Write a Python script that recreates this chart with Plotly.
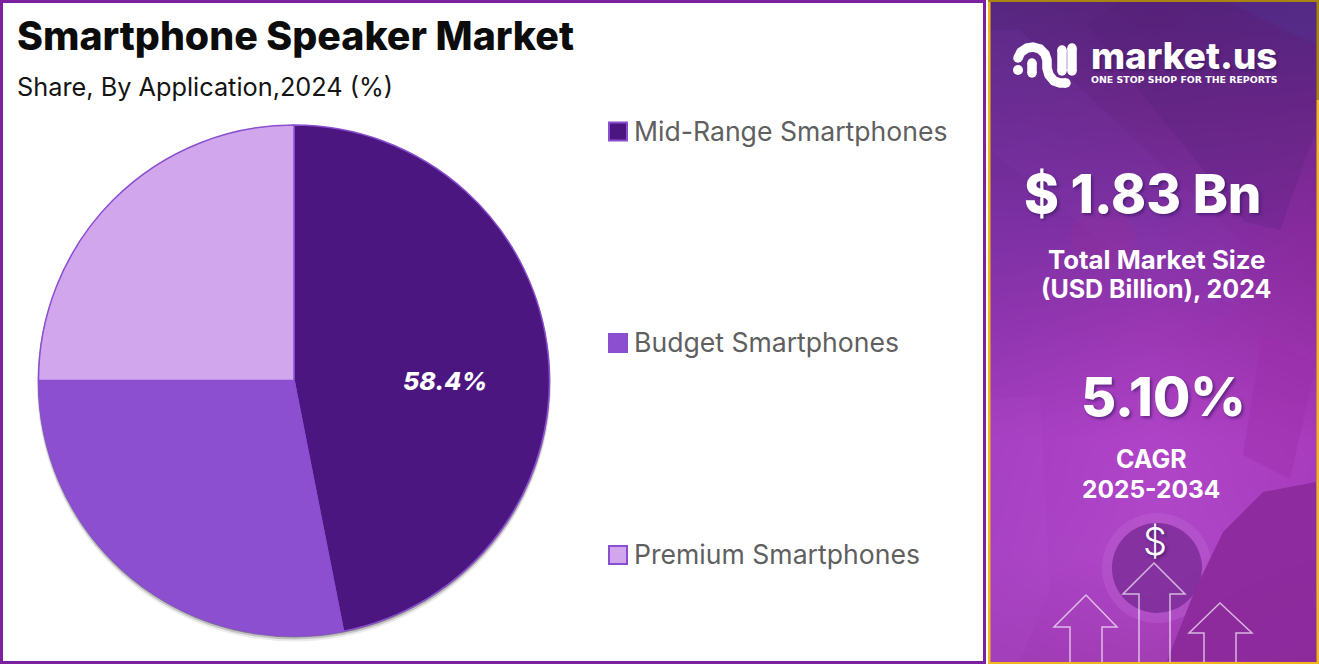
import base64, zlib, struct
import numpy as np
import plotly.graph_objects as go

W, H = 1319, 664

# ---- data ----
categories = ["Mid-Range Smartphones", "Budget Smartphones", "Premium Smartphones"]
values = [46.9, 28.1, 25.0]
shown_label = "58.4%"
title = "Smartphone Speaker Market"
subtitle = "Share, By Application,2024 (%)"
market_size = "$ 1.83 Bn"
market_caption = ["Total Market Size", "(USD Billion), 2024"]
cagr = "5.10%"
cagr_caption = ["CAGR", "2025-2034"]
colors = ["#4c1680", "#8c4fd0", "#d2a6ec"]
edge = "#8a4fd0"
FONT = "Inter"

def fx(x): return x / W
def fy(y): return 1 - y / H

# ---- right panel background gradient ----
grid = np.array([
    [[0x56,0x28,0x80],[0x58,0x22,0x7a],[0x55,0x28,0x82]],
    [[0x68,0x2b,0x90],[0x6c,0x28,0x8a],[0x70,0x28,0x8c]],
    [[0x7c,0x30,0xa4],[0x7e,0x30,0xa2],[0x86,0x2a,0x9c]],
    [[0x90,0x36,0xb0],[0x9c,0x38,0xb4],[0x96,0x30,0xa8]],
    [[0xa6,0x3e,0xc2],[0xb0,0x44,0xc8],[0xa8,0x3c,0xbc]],
    [[0xa8,0x40,0xc4],[0xb0,0x48,0xc8],[0xa6,0x40,0xc0]],
    [[0xa0,0x3c,0xb8],[0xa4,0x3e,0xb4],[0x90,0x28,0x9a]],
], dtype=float)
pw, ph = 330, 664
gy = np.linspace(0, grid.shape[0]-1, ph)
gx = np.linspace(0, grid.shape[1]-1, pw)
y0 = np.minimum(gy.astype(int), grid.shape[0]-2); ty = (gy-y0)[:, None, None]
x0 = np.minimum(gx.astype(int), grid.shape[1]-2); tx = (gx-x0)[None, :, None]
g = (grid[y0][:, x0]*(1-tx) + grid[y0][:, x0+1]*tx)*(1-ty) + (grid[y0+1][:, x0]*(1-tx) + grid[y0+1][:, x0+1]*tx)*ty
img = g.astype(np.uint8)
def png(a):
    h, w, _ = a.shape
    raw = b"".join(b"\x00" + a[i].tobytes() for i in range(h))
    def ch(t, d):
        return struct.pack(">I", len(d)) + t + d + struct.pack(">I", zlib.crc32(t+d) & 0xffffffff)
    return b"\x89PNG\r\n\x1a\n" + ch(b"IHDR", struct.pack(">IIBBBBB", w, h, 8, 2, 0, 0, 0)) + ch(b"IDAT", zlib.compress(raw)) + ch(b"IEND", b"")
src = "data:image/png;base64," + base64.b64encode(png(img)).decode()

shapes = []
def rect(x0, y0, x1, y1, fill=None, line=None, lw=0, layer="below", opacity=1):
    shapes.append(dict(type="rect", xref="paper", yref="paper", x0=fx(x0), x1=fx(x1), y0=fy(y0), y1=fy(y1),
                       fillcolor=fill, line=dict(color=line, width=lw) if line else dict(width=0), layer=layer, opacity=opacity))
def path(points, fill=None, line=None, lw=0, close=False, opacity=1, layer="above"):
    d = "M" + " L".join(f"{fx(x):.5f},{fy(y):.5f}" for x, y in points) + (" Z" if close else "")
    shapes.append(dict(type="path", xref="paper", yref="paper", path=d, fillcolor=fill,
                       line=dict(color=line, width=lw) if line else dict(width=0), opacity=opacity, layer=layer))
def circle(cx, cy, r, fill=None, line=None, lw=0, opacity=1, layer="above"):
    shapes.append(dict(type="circle", xref="paper", yref="paper", x0=fx(cx-r), x1=fx(cx+r), y0=fy(cy-r), y1=fy(cy+r),
                       fillcolor=fill, line=dict(color=line, width=lw) if line else dict(width=0), opacity=opacity, layer=layer))

# left panel
rect(1.5, 1.5, 984.5, 662.5, fill="white", line="#7b209f", lw=3)

# background photo hints in the right panel
path([(1230,2),(1316,2),(1316,45)], fill="#4f2f8c", opacity=.45, layer="below", close=True)
path([(1087,25),(1120,2),(1225,2),(1316,45),(1316,130),(1280,230),(1245,222)], fill="#4e1f78", opacity=.22, layer="below", close=True)
path([(990,30),(1020,30),(1240,240),(1245,300),(1210,330),(990,150)], fill="#8a42ba", opacity=.12, layer="below", close=True)
circle(1103, 237, 32, fill="#a02f90", opacity=.22, layer="below")
path([(1263,332),(1316,365),(1290,479),(1243,455)], fill="#9c2ea8", opacity=.40, layer="below", close=True)
path([(990,400),(1040,395),(1050,590),(1020,661),(990,661)], fill="#b85ad0", opacity=.12, layer="below", close=True)
circle(1157, 568, 55, fill="#ba60d0", opacity=.45, layer="below")
circle(1157, 568, 45, fill="#7d2c98", opacity=.85, layer="below")
path([(1167,661),(1195,590),(1223,532),(1263,492),(1316,482),(1316,661)], fill="#8c2a9c", opacity=.95, layer="below", close=True)

# gold frame of the right panel
rect(988, 0, 990.5, 664, fill="#f2b71c")
rect(988, 662, 1319, 664, fill="#f2b71c")
rect(1316.5, 100, 1319, 664, fill="#f2b71c")
rect(1316.5, 0, 1319, 100, fill="#a98410")
rect(988, 0, 1319, 2, fill="#a98410")

# logo
LW = 9.5
curve = [(1018,58),(1021,52),(1027,48),(1033,47),(1040,49),(1045,54),(1047,60),(1047,68),(1049,75),(1054,81),(1060,83),(1066,83)]
path(curve, line="white", lw=LW)
for cx, cy in [(1018,58),(1066,83),(1032,63),(1032,73),(1062,50),(1062,71),(1072,48),(1072,71)]:
    circle(cx, cy, LW/2, fill="white")
circle(1018, 70, 5, fill="white")
path([(1032,63),(1032,73)], line="white", lw=LW)
path([(1062,50),(1062,71)], line="white", lw=LW)
path([(1072,48),(1072,71)], line="white", lw=LW)

# arrows
arrow = "rgba(255,255,255,0.65)"
for tip, wy, wl, wr, sl, sr in [((1086,595),627,1054,1117,1070,1102),
                               ((1154,563),594,1123,1185,1139,1170),
                               ((1220,603),633,1189,1252,1204,1236)]:
    path([(sl,662),(sl,wy),(wl,wy),tip,(wr,wy),(sr,wy),(sr,662)], line=arrow, lw=1.5)

# legend squares
legend_y = [131.5, 343, 555]
for yc, c in zip(legend_y, colors):
    rect(609, yc-9, 627, yc+9, fill=c, line=edge, lw=2, layer="above")

# pie + soft shadow
def dom(cx, cy, r):
    return dict(x=[fx(cx-r), fx(cx+r)], y=[fy(cy+r), fy(cy-r)])
traces = []
for off, r, a in [(4.5, 257, .10), (3, 256.5, .25), (1.5, 256, .55)]:
    traces.append(go.Pie(values=[1], labels=[""], domain=dom(294, 380+off, r), textinfo="none", hoverinfo="skip",
                         marker=dict(colors=[f"rgba(70,70,70,{a})"], line=dict(width=0)), showlegend=False, sort=False))
traces.append(go.Pie(labels=categories, values=values, domain=dom(294, 380.5, 255.5), sort=False, direction="clockwise",
                     rotation=0, textinfo="none", showlegend=False,
                     marker=dict(colors=colors, line=dict(color=edge, width=1.5))))
fig = go.Figure(traces)

# texts
ann = []
def text(x, y, s, size, color="white", weight=400, anchor="center", style="normal", shadow=None, family=FONT):
    f = dict(family=family, size=size, color=color, weight=weight, style=style)
    if shadow: f["shadow"] = shadow
    ann.append(dict(xref="paper", yref="paper", x=fx(x), y=fy(y), text=s, showarrow=False, xanchor=anchor,
                    yanchor="middle", font=f, align=anchor, borderpad=0, borderwidth=0))
sh = "2px 2px 3px rgba(50,20,90,0.55)"
text(17, 35.5, title, 39.3, "#0c0c0c", 800, "left")
text(17, 87, subtitle, 25.3, "#141414", 400, "left")
for yc, c in zip(legend_y, categories):
    text(634, yc-1, c, 26.6, "#5f5f5f", 400, "left")
text(445, 381, shown_label, 25, "white", 800, style="italic")
text(1143, 194, market_size, 53, "white", 800, shadow=sh)
text(1156, 259, market_caption[0], 25.8, "white", 700)
text(1156, 289, market_caption[1], 25, "white", 700)
text(1163, 396, cagr, 54, "white", 800, shadow=sh)
text(1151, 459, cagr_caption[0], 25, "white", 700)
text(1151, 489, cagr_caption[1], 24.5, "white", 700)
text(1155, 541, "$", 38, "white", 300, shadow=sh)
text(1091, 55, "market.us", 36.8, "white", 800, "left", shadow=sh)
text(1091, 80, "ONE STOP SHOP FOR THE REPORTS", 9.4, "white", 700, "left", family="DejaVu Sans")

fig.update_layout(width=W, height=H, margin=dict(l=0, r=0, t=0, b=0, pad=0), paper_bgcolor="white", plot_bgcolor="white",
                  showlegend=False, shapes=shapes, annotations=ann,
                  images=[dict(source=src, xref="paper", yref="paper", x=fx(989), y=1, sizex=330/W, sizey=1,
                               xanchor="left", yanchor="top", sizing="stretch", layer="below")])
fig.write_html("out.html", config={"displayModeBar": False},
               post_script="document.body.style.margin='0';document.body.style.overflow='hidden';")
